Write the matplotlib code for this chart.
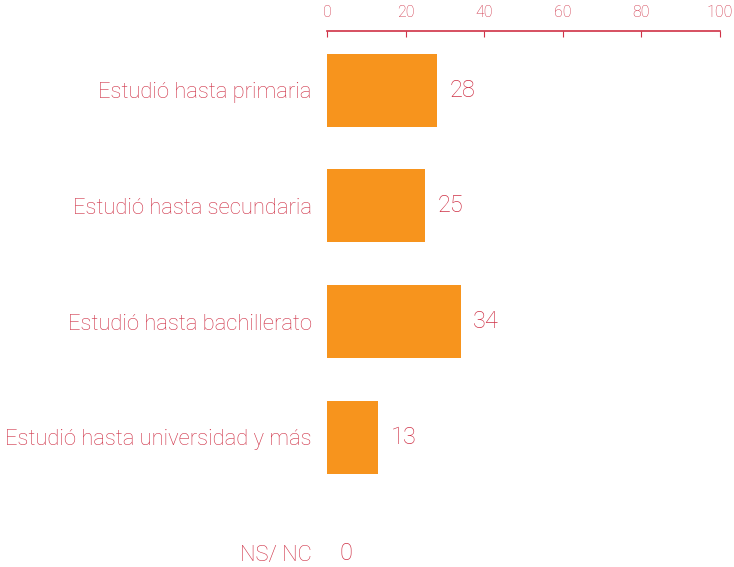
import matplotlib.pyplot as plt

categorias = ['Estudió hasta primaria', 'Estudió hasta secundaria',
              'Estudió hasta bachillerato', 'Estudió hasta universidad y más',
              'NS/ NC']
valores = [28, 25, 34, 13, 0]
ticks = [0, 20, 40, 60, 80, 100]

naranja = '#F7941D'
rojo = '#CF3146'

plt.rcParams['font.family'] = ['Roboto', 'DejaVu Sans']
plt.rcParams['font.weight'] = 'light'

fig = plt.figure(figsize=(7.34, 5.67), dpi=100)
ax = fig.add_axes([0.4455, 0.0, 0.981 - 0.4455, 0.9453])

y = list(range(len(categorias)))
ax.barh(y, valores, height=0.63, color=naranja)
for yi, v in zip(y, valores):
    ax.text(v + 3.2, yi, str(v), va='center', ha='left', color=rojo,
            fontsize=17, fontweight='light')

ax.set_xlim(0, 100)
ax.set_ylim(4.12, -0.51)
ax.set_yticks(y)
ax.set_yticklabels(categorias, fontsize=15.8, color=rojo, fontweight='light')
ax.tick_params(axis='y', length=0, pad=11)

ax.xaxis.tick_top()
ax.set_xticks(ticks)
ax.tick_params(axis='x', direction='in', length=4, color=rojo,
               labelcolor=rojo, labelsize=11.5, pad=8)

for s in ['bottom', 'left', 'right']:
    ax.spines[s].set_visible(False)
ax.spines['top'].set_color(rojo)
ax.spines['top'].set_linewidth(1.2)

fig.savefig('out.png', dpi=100)
